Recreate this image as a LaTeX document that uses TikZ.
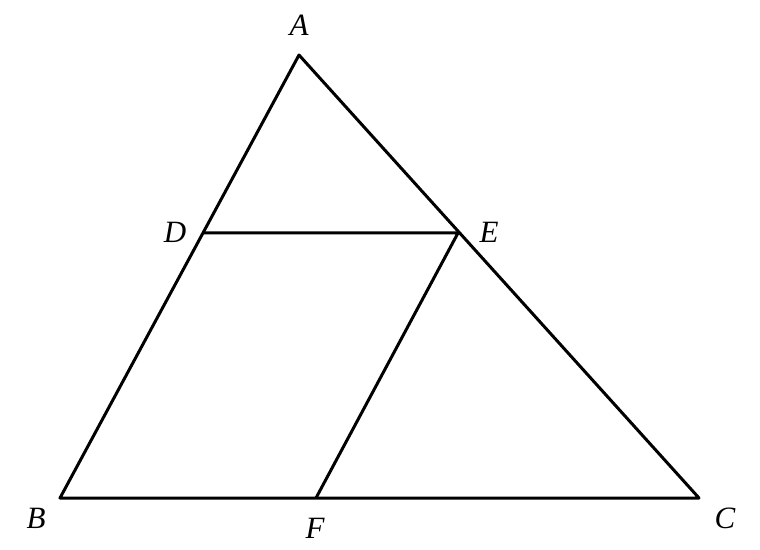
\documentclass[tikz,border=0pt]{standalone}
\usepackage{fontspec}
\setmainfont{Liberation Serif}
\begin{document}
\begin{tikzpicture}[x=0.5pt,y=-0.5pt,line width=1.5pt,line join=round,font=\fontsize{15.5}{18}\selectfont\itshape]
            \useasboundingbox (0,0) rectangle (760,550);
            \coordinate (A) at (299,55);
            \coordinate (B) at (60,498);
            \coordinate (C) at (699,498);
            \coordinate (D) at (203,233);
            \coordinate (E) at (458,233);
            \coordinate (F) at (316,498);
            \draw (A)--(B)--(C)--cycle;
            \draw (D)--(E)--(F);
            \node (lA) at (299,25) {A};
            \node (lB) at (36,518) {B};
            \node (lC) at (725,518) {C};
            \node (lD) at (175,232) {D};
            \node (lE) at (489,232) {E};
            \node (lF) at (315,528) {F};
    \end{tikzpicture}
\end{document}
